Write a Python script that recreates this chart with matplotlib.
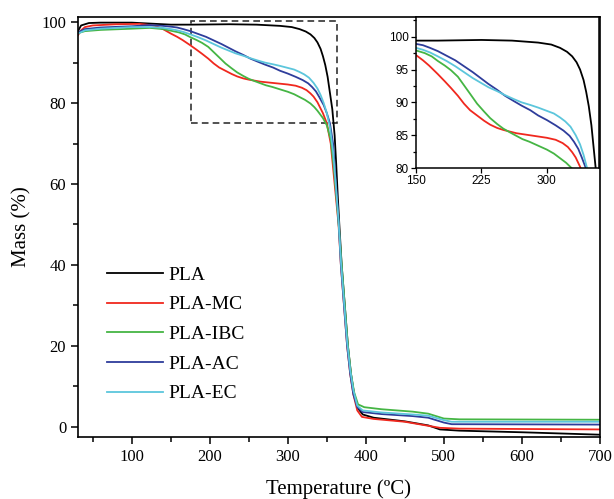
"""TGA curves of PLA and its composites, with a zoomed inset."""

import matplotlib

matplotlib.use("Agg")

import matplotlib.pyplot as plt
from matplotlib.patches import Rectangle
from matplotlib.ticker import MultipleLocator

# temperature (C) and mass (%)
pla_t = [31, 35, 45, 60, 100, 130, 150, 175, 225, 260, 290, 305, 315, 323, 329, 334, 338, 342, 345,
         348, 351, 354, 357, 360, 362, 364, 366, 369, 373, 377, 381, 385, 390, 396, 410, 450, 480,
         495, 520, 600, 700]
pla_m = [97.8, 99.2, 99.8, 99.9, 99.9, 99.6, 99.4, 99.4, 99.5, 99.4, 99.1, 98.8, 98.3, 97.7, 97.0, 96.1, 95.0, 93.4, 91.6,
         89.4, 86.5, 82.5, 78.5, 72.0, 65.0, 57.0, 50.0, 40.0, 30.0, 20.0, 13.0, 8.0, 4.5, 3.0, 2.2, 1.3, 0.3,
         -0.7, -1.0, -1.4, -2.0]

mc_t = [31, 35, 40, 50, 80, 110, 123, 130, 140, 150, 158, 165, 175, 183, 190, 198, 205, 212, 220, 228,
        235, 243, 250, 265, 280, 300, 310, 318, 324, 329, 333, 338, 345, 350, 355, 359, 362, 365, 368,
        372, 376, 380, 384, 389, 395, 410, 450, 480, 495, 520, 700]
mc_m = [96.8, 98.0, 98.8, 99.2, 99.5, 99.6, 99.3, 99.1, 98.3, 97.2, 96.4, 95.6, 94.3, 93.2, 92.2, 91.0, 89.8, 88.8, 88.0, 87.2,
        86.6, 86.1, 85.8, 85.3, 85.0, 84.6, 84.3, 83.8, 83.2, 82.4, 81.6, 80.2, 77.5, 75.0, 70.0, 62.0, 56.0, 50.0, 40.0,
        30.0, 20.0, 13.0, 8.0, 4.0, 2.4, 1.9, 1.2, 0.2, -0.3, -0.5, -0.7]

ibc_t = [31, 40, 60, 100, 123, 140, 150, 160, 168, 175, 183, 190, 198, 205, 212, 220, 228, 235, 243, 250,
         258, 265, 272, 280, 290, 300, 308, 315, 322, 329, 334, 338, 345, 350, 355, 359, 363, 366, 369,
         373, 377, 381, 385, 390, 398, 420, 460, 480, 500, 520, 700]
ibc_m = [97.3, 97.8, 98.1, 98.4, 98.6, 98.3, 97.9, 97.5, 97.0, 96.3, 95.6, 94.9, 93.9, 92.6, 91.3, 89.8, 88.6, 87.6, 86.7, 86.0,
         85.4, 84.9, 84.4, 84.0, 83.4, 82.8, 82.2, 81.5, 80.8, 79.9, 79.0, 78.1, 76.3, 74.5, 71.0, 64.0, 55.0, 48.0, 40.0,
         30.0, 20.0, 13.0, 8.5, 5.5, 4.8, 4.3, 3.7, 3.2, 2.0, 1.8, 1.7]

ac_t = [31, 40, 60, 100, 123, 140, 150, 158, 166, 175, 185, 195, 205, 215, 224, 233, 243, 252, 262, 271,
        281, 290, 300, 310, 319, 326, 331, 336, 340, 346, 350, 354, 358, 361, 365, 368, 372, 376, 380,
        384, 389, 396, 420, 460, 480, 500, 510, 700]
ac_m = [97.5, 98.3, 98.7, 99.0, 99.3, 99.1, 98.9, 98.7, 98.3, 97.8, 97.1, 96.4, 95.5, 94.6, 93.7, 92.8, 91.9, 91.0, 90.2, 89.5,
        88.8, 88.0, 87.3, 86.5, 85.7, 84.9, 84.0, 82.9, 81.6, 79.5, 77.5, 75.0, 70.0, 62.0, 51.0, 40.0, 30.0, 20.0, 13.0,
        8.0, 4.8, 3.6, 3.1, 2.6, 2.2, 1.0, 0.6, 0.5]

ec_t = [31, 40, 60, 100, 123, 140, 150, 158, 166, 175, 185, 195, 205, 215, 224, 233, 243, 252, 262, 271,
        281, 290, 300, 308, 315, 321, 327, 333, 338, 342, 346, 350, 354, 358, 361, 365, 368, 372, 376,
        380, 384, 389, 396, 420, 460, 480, 500, 510, 700]
ec_m = [97.2, 98.0, 98.4, 98.8, 98.8, 98.6, 98.3, 98.0, 97.6, 97.0, 96.3, 95.5, 94.6, 93.7, 93.0, 92.3, 91.7, 91.1, 90.5, 90.0,
        89.6, 89.2, 88.7, 88.3, 87.7, 87.1, 86.3, 85.0, 83.6, 82.0, 80.0, 77.5, 74.0, 68.0, 61.0, 51.0, 41.0, 31.0, 21.0,
        14.0, 9.0, 5.2, 4.0, 3.5, 3.0, 2.7, 1.6, 1.2, 1.2]

series = [
    ("PLA", pla_t, pla_m, "#000000"),
    ("PLA-MC", mc_t, mc_m, "#f0281e"),
    ("PLA-IBC", ibc_t, ibc_m, "#45b544"),
    ("PLA-AC", ac_t, ac_m, "#2e3d9b"),
    ("PLA-EC", ec_t, ec_m, "#5cc6dc"),
]

# zoom window marked on the main plot: x, y, width, height
zoom_box = (175.5, 75.0, 187, 25.3)

serif = "Liberation Serif"
sans = "Liberation Sans"

fig = plt.figure(figsize=(6.14, 4.99), dpi=100)
ax = fig.add_axes([0.127, 0.124, 0.85, 0.842])

for name, t, m, color in series:
    ax.plot(t, m, color=color, lw=1.3, label=name)

ax.set_xlim(31, 700)
ax.set_ylim(-2.6, 101.3)
ax.xaxis.set_major_locator(MultipleLocator(100))
ax.xaxis.set_minor_locator(MultipleLocator(50))
ax.yaxis.set_major_locator(MultipleLocator(20))
ax.yaxis.set_minor_locator(MultipleLocator(10))
ax.tick_params(which="major", direction="out", length=5, width=1.1, labelsize=12)
ax.tick_params(which="minor", direction="out", length=3.5, width=1.1)
for label in ax.get_xticklabels() + ax.get_yticklabels():
    label.set_fontfamily(serif)
for spine in ax.spines.values():
    spine.set_linewidth(1.2)

ax.set_xlabel("Temperature (ºC)", fontsize=15, family=serif, labelpad=10)
ax.set_ylabel("Mass (%)", fontsize=15, family=serif, labelpad=7)

ax.add_patch(Rectangle(zoom_box[:2], zoom_box[2], zoom_box[3], fill=False,
                       edgecolor="#333333", lw=1.2, linestyle=(0, (4, 2.5))))

ax.legend(loc="upper left", bbox_to_anchor=(0.056, 0.407), frameon=False,
          prop={"family": serif, "size": 14}, handlelength=2.85, handletextpad=0.3,
          labelspacing=0.62, borderpad=0, borderaxespad=0)

# inset
ins = fig.add_axes([0.6775, 0.6633, 0.2985, 0.3027])
for name, t, m, color in series:
    ins.plot(t, m, color=color, lw=1.3)
ins.set_xlim(150, 360)
ins.set_ylim(80, 103)
ins.xaxis.set_major_locator(MultipleLocator(75))
ins.yaxis.set_major_locator(MultipleLocator(5))
ins.yaxis.set_minor_locator(MultipleLocator(2.5))
ins.tick_params(which="major", direction="out", length=3.5, width=0.9, labelsize=8.5, pad=1.5)
ins.tick_params(which="minor", direction="out", length=2, width=0.9)
for label in ins.get_xticklabels() + ins.get_yticklabels():
    label.set_fontfamily(sans)
for spine in ins.spines.values():
    spine.set_linewidth(1.1)

fig.savefig("out.png", dpi=100)
